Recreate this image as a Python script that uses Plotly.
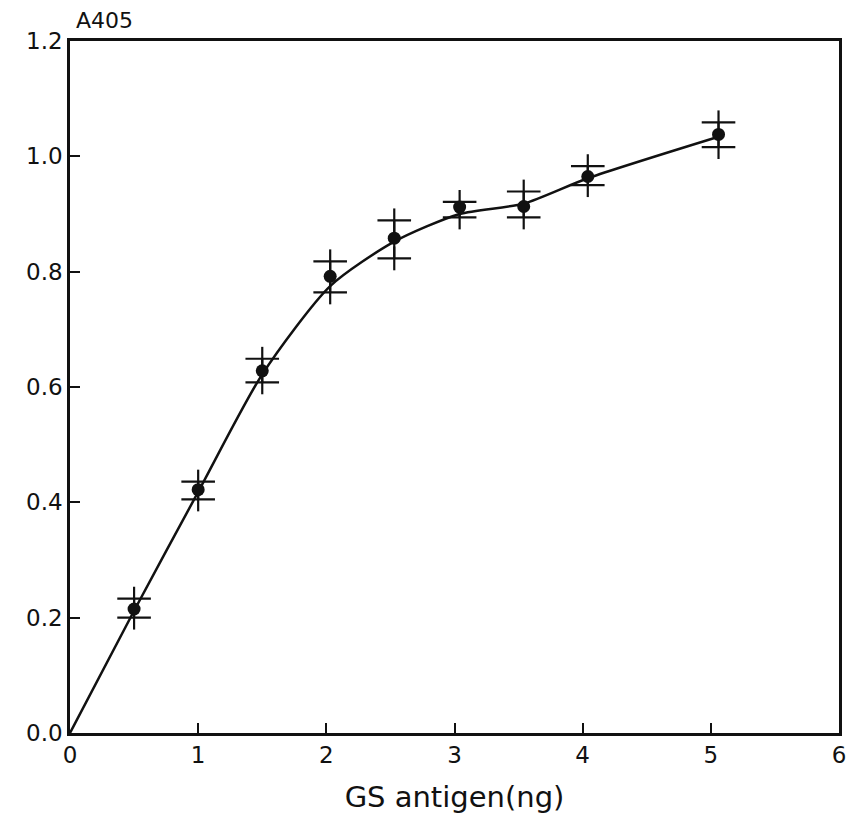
import plotly.graph_objects as go

# Data
antigen_ng = [0.5, 1.0, 1.5, 2.03, 2.53, 3.04, 3.54, 4.04, 5.06]
a405_mean = [0.215, 0.422, 0.628, 0.792, 0.858, 0.912, 0.913, 0.965, 1.038]
a405_upper = [0.233, 0.436, 0.649, 0.818, 0.889, 0.921, 0.939, 0.983, 1.059]
a405_lower = [0.200, 0.405, 0.608, 0.764, 0.823, 0.894, 0.894, 0.950, 1.016]

curve_x = [0.0] + antigen_ng
curve_y = [0.0, 0.212, 0.418, 0.622, 0.775, 0.852, 0.900, 0.918, 0.962, 1.034]

x_ticks = [0, 1, 2, 3, 4, 5, 6]
y_ticks = [0.0, 0.2, 0.4, 0.6, 0.8, 1.0, 1.2]
y_tick_labels = ["0.0", "0.2", "0.4", "0.6", "0.8", "1.0", "1.2"]

FONT = "DejaVu Sans"
INK = "#111111"

fig = go.Figure()

# fitted curve
fig.add_trace(go.Scatter(
    x=curve_x, y=curve_y, mode="lines",
    line=dict(color=INK, width=2.5, shape="spline", smoothing=0.7),
    hoverinfo="skip", showlegend=False))

# vertical connectors between upper and lower marks
for xv, lo, hi in zip(antigen_ng, a405_lower, a405_upper):
    fig.add_trace(go.Scatter(
        x=[xv, xv], y=[lo, hi], mode="lines",
        line=dict(color=INK, width=2.2), hoverinfo="skip", showlegend=False))

# upper and lower "+" marks: short vertical arm + wider horizontal bar
fig.add_trace(go.Scatter(
    x=antigen_ng + antigen_ng, y=a405_upper + a405_lower, mode="markers",
    marker=dict(symbol="line-ns", size=17, line=dict(color=INK, width=2.2)),
    hoverinfo="skip", showlegend=False))
fig.add_trace(go.Scatter(
    x=antigen_ng + antigen_ng, y=a405_upper + a405_lower, mode="markers",
    marker=dict(symbol="line-ew", size=24, line=dict(color=INK, width=2.2)),
    showlegend=False))

# mean points
fig.add_trace(go.Scatter(
    x=antigen_ng, y=a405_mean, mode="markers",
    marker=dict(symbol="circle", size=13, color=INK),
    showlegend=False))

fig.update_layout(
    width=854, height=824,
    margin=dict(l=62, r=23, t=33, b=99),
    paper_bgcolor="white", plot_bgcolor="white",
    font=dict(family=FONT, color=INK, size=23),
    xaxis=dict(
        range=[0, 6], tickvals=x_ticks, ticktext=[str(v) for v in x_ticks],
        ticks="inside", ticklen=10, tickwidth=2, tickcolor=INK,
        showline=True, linecolor=INK, linewidth=2.5, mirror=True,
        showgrid=False, zeroline=False,
        title=dict(text="GS antigen(ng)", font=dict(size=29, family=FONT), standoff=20),
    ),
    yaxis=dict(
        range=[0, 1.2], tickvals=y_ticks, ticktext=y_tick_labels,
        ticks="inside", ticklen=10, tickwidth=2, tickcolor=INK,
        showline=True, linecolor=INK, linewidth=2.5, mirror=True,
        showgrid=False, zeroline=False,
    ),
    annotations=[dict(
        text="A405", xref="paper", yref="paper", x=0.0, y=1.0,
        xanchor="left", yanchor="bottom", yshift=6, xshift=4, showarrow=False,
        font=dict(size=22, family=FONT, color=INK))],
)

fig.write_html("out.html")
